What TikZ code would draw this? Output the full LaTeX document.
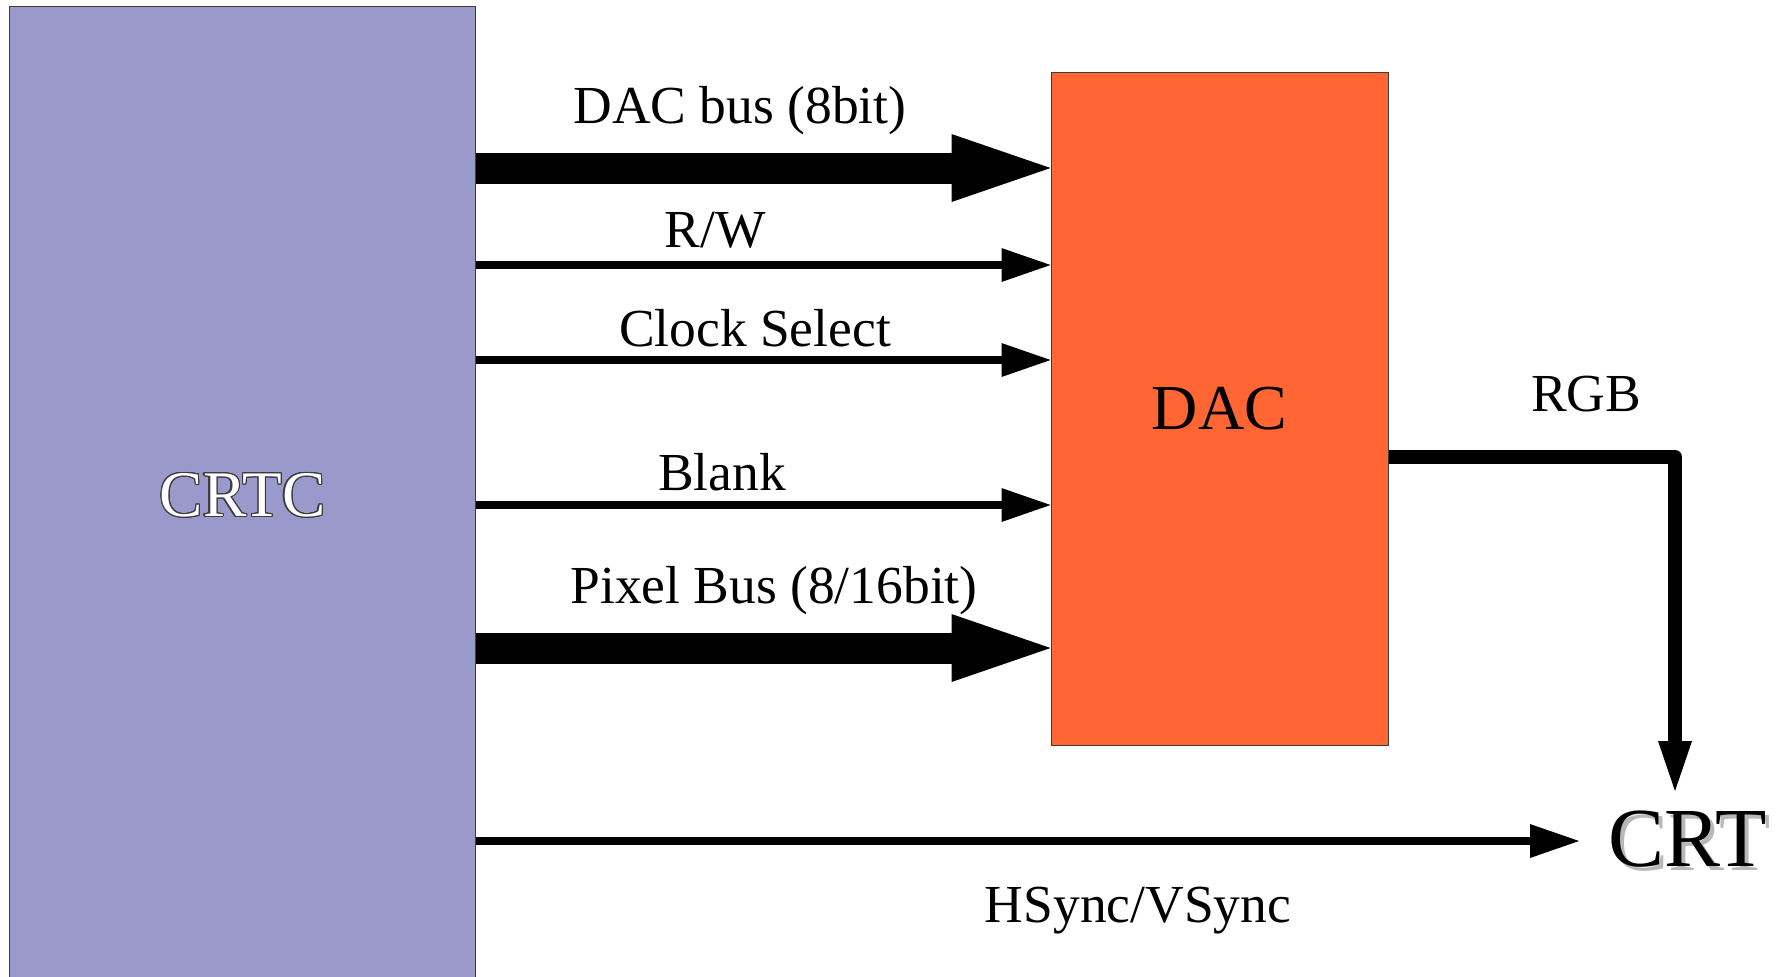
\documentclass[tikz,border=0pt]{standalone}
\usepackage{fontspec}
\setmainfont{Liberation Serif}
\usepackage{contour}
\contourlength{0.6pt}
\usetikzlibrary{arrows.meta}
\definecolor{crtcfill}{RGB}{153,153,204}
\definecolor{dacfill}{RGB}{255,102,51}
\definecolor{edgegray}{RGB}{60,60,60}
\tikzset{
  blockbox/.style={draw=edgegray, line width=0.5pt, inner sep=0pt, rectangle},
  lbl/.style={anchor=base, inner sep=0pt, font=\fontsize{26.75}{30}\selectfont},
  busarrow/.style={line width=15.5pt, -{Triangle[length=49.5pt,width=34pt,line width=0pt]}},
  sigarrow/.style={line width=4pt, -{Triangle[length=24.5pt,width=17pt,line width=0pt]}},
  rgbarrow/.style={line width=7pt, line join=round, -{Triangle[length=25pt,width=17pt,line width=0pt]}},
}
\begin{document}
\begin{tikzpicture}[x=0.5pt,y=-0.5pt]
\useasboundingbox (0,0) rectangle (1788,976);
% blocks
\node[blockbox, fill=crtcfill, minimum width=233pt, minimum height=489.25pt,
      font=\fontsize{32.5}{35}\selectfont] (crtc) at (242.6,495.75)
      {\contour{edgegray}{\textcolor{white}{CRTC}}};
\node[blockbox, fill=dacfill, minimum width=168.5pt, minimum height=336.5pt,
      font=\fontsize{32}{34}\selectfont] (dac) at (1219.5,408.5) {DAC};
% CRT
\node[anchor=base, inner sep=0pt, font=\fontsize{42}{45}\selectfont] (crt) at (1688,866)
  {\rlap{\kern2pt\raisebox{-2pt}{\textcolor{black!28}{CRT}}}CRT};
\coordinate (crtin) at (1579,841);
\coordinate (crttop) at (1675,791);
% connectors
\draw[busarrow] (crtc.east |- 0,168) -- (dac.west |- 0,168);
\draw[sigarrow] (crtc.east |- 0,265) -- (dac.west |- 0,265);
\draw[sigarrow] (crtc.east |- 0,360) -- (dac.west |- 0,360);
\draw[sigarrow] (crtc.east |- 0,505) -- (dac.west |- 0,505);
\draw[busarrow] (crtc.east |- 0,648) -- (dac.west |- 0,648);
\draw[sigarrow] (crtc.east |- crtin) -- (crtin);
\draw[rgbarrow] (dac.east |- 0,457) -- (crttop |- 0,457) -- (crttop);
% labels
\node[lbl] (l1) at (740,123) {DAC bus (8bit)};
\node[lbl] (l2) at (715,247) {R/W};
\node[lbl] (l3) at (755,346) {Clock Select};
\node[lbl] (l4) at (722,490) {Blank};
\node[lbl] (l5) at (774,603) {Pixel Bus (8/16bit)};
\node[lbl] (l6) at (1586,411) {RGB};
\node[lbl] (l7) at (1138,922) {HSync/VSync};
\end{tikzpicture}
\end{document}
